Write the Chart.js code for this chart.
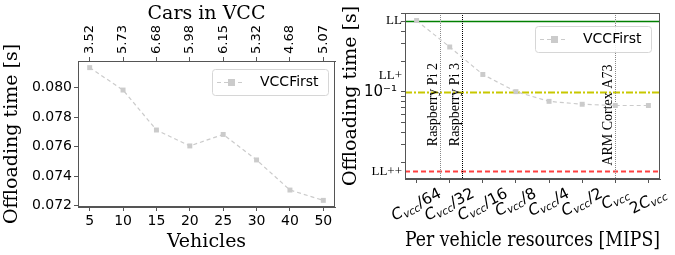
<!DOCTYPE html>
<html>
<head>
<meta charset="utf-8">
<script src="https://cdn.jsdelivr.net/npm/chart.js@4.4.0/dist/chart.umd.min.js"></script>
<style>
  body { margin: 0; background: #fff; width: 675px; height: 255px; overflow: hidden; position: relative; }
  canvas { position: absolute; top: 0; }
  #leftChart { left: 0; }
  #rightChart { left: 340px; }
</style>
</head>
<body>
<canvas id="leftChart" width="340" height="255"></canvas>
<canvas id="rightChart" width="335" height="255"></canvas>
<script>
// Left panel: offloading time vs number of vehicles
const vehicles = ['5', '10', '15', '20', '25', '30', '40', '50'];
const carsInVcc = ['3.52', '5.73', '6.68', '5.98', '6.15', '5.32', '4.68', '5.07'];
const vehicleTimes = [0.08136, 0.07984, 0.07713, 0.07605, 0.07683, 0.07510, 0.07306, 0.07236];
const leftYTicks = [0.072, 0.074, 0.076, 0.078, 0.080];

// Right panel: offloading time vs per vehicle resources (log y)
const resources = ['C_{vcc}/64', 'C_{vcc}/32', 'C_{vcc}/16', 'C_{vcc}/8', 'C_{vcc}/4', 'C_{vcc}/2', 'C_{vcc}', '2C_{vcc}'];
const resourceTimes = [0.51, 0.279, 0.149, 0.1007, 0.0807, 0.0755, 0.0734, 0.0734];
const rightYTicks = [0.1];
const rightYLabels = ['10⁻¹'];
const rightMinorTicks = [0.02, 0.03, 0.04, 0.05, 0.06, 0.07, 0.08, 0.09, 0.2, 0.3, 0.4, 0.5, 0.6];
const devices = ['Raspberry Pi 2', 'Raspberry Pi 3', 'ARM Cortex A73'];
const devicePositions = [0.70, 1.37, 6];
const deviceLabelAt = [0.029, 0.029, 0.0186];
const limitNames = ['LL', 'LL+', 'LL++'];
const limitLabelValues = [0.51, 0.145, 0.0163];
const limitLineValues = [0.51, 0.1, 0.0163];

const seriesName = 'VCCFirst';
const gray = '#cbcbcb';
const axisColor = '#555';
const serif = 'DejaVu Serif';

Chart.defaults.font.family = 'DejaVu Sans';
Chart.defaults.color = '#000';

// matplotlib-like 5% margins
function linBounds(vals) {
  const lo = Math.min(...vals), hi = Math.max(...vals), m = (hi - lo) * 0.05;
  return [lo - m, hi + m];
}
function logBounds(vals) {
  const lo = Math.log10(Math.min(...vals)), hi = Math.log10(Math.max(...vals)), m = (hi - lo) * 0.05;
  return [Math.pow(10, lo - m), Math.pow(10, hi + m)];
}

const idx = vehicles.map((_, i) => i);
const xRange = linBounds(idx);

const framePlugin = {
  id: 'frame',
  afterDatasetsDraw(chart) {
    const a = chart.chartArea, ctx = chart.ctx;
    ctx.save();
    ctx.strokeStyle = axisColor;
    ctx.lineWidth = 1;
    ctx.strokeRect(a.left + 0.5, a.top + 0.5, a.right - a.left - 1, a.bottom - a.top - 1);
    ctx.restore();
  }
};

const boxLegend = {
  id: 'boxLegend',
  afterDraw(chart, args, opts) {
    const a = chart.chartArea, ctx = chart.ctx;
    const w = 116, h = 26;
    const left = a.right - opts.right - w, top = a.top + opts.top;
    ctx.save();
    ctx.fillStyle = 'rgba(255,255,255,0.85)';
    ctx.strokeStyle = '#d6d6d6';
    ctx.lineWidth = 1;
    ctx.beginPath();
    ctx.roundRect(left + 0.5, top + 0.5, w, h, 3);
    ctx.fill();
    ctx.stroke();
    const cy = top + h / 2 + 0.5;
    ctx.strokeStyle = gray;
    ctx.lineWidth = 1.2;
    ctx.setLineDash([4, 3]);
    ctx.beginPath();
    ctx.moveTo(left + 5, cy);
    ctx.lineTo(left + 33, cy);
    ctx.stroke();
    ctx.setLineDash([]);
    ctx.fillStyle = gray;
    ctx.fillRect(left + 16, cy - 3.5, 7, 7);
    ctx.fillStyle = '#000';
    ctx.font = '14px "DejaVu Sans"';
    ctx.textBaseline = 'middle';
    ctx.fillText(chart.data.datasets[0].label, left + 48, cy);
    ctx.restore();
  }
};

// vertical tick labels of the top axis (Cars in VCC)
const topLabels = {
  id: 'topLabels',
  afterDraw(chart) {
    const a = chart.chartArea, ctx = chart.ctx, x = chart.scales.x2;
    ctx.save();
    ctx.fillStyle = '#000';
    ctx.font = '13px "DejaVu Sans"';
    ctx.textAlign = 'left';
    ctx.textBaseline = 'middle';
    carsInVcc.forEach((lab, i) => {
      ctx.save();
      ctx.translate(x.getPixelForValue(i), a.top - 7);
      ctx.rotate(-Math.PI / 2);
      ctx.fillText(lab, 0, 0);
      ctx.restore();
    });
    ctx.restore();
  }
};

const lineDataset = (data) => ({
  label: seriesName,
  data: data,
  borderColor: gray,
  borderWidth: 1.2,
  borderDash: [4, 3],
  pointStyle: 'rect',
  pointRadius: 3.5,
  pointBackgroundColor: gray,
  pointBorderColor: gray,
  pointBorderWidth: 0
});

const gridOpts = { drawOnChartArea: false, tickLength: 4, color: axisColor };

// ---------- left chart ----------
new Chart(document.getElementById('leftChart'), {
  type: 'line',
  data: { datasets: [lineDataset(vehicleTimes.map((v, i) => ({ x: i, y: v })))] },
  options: {
    responsive: false,
    animation: false,
    layout: { padding: { right: 5 } },
    plugins: { legend: { display: false }, tooltip: { enabled: false }, boxLegend: { right: 7, top: 8 } },
    scales: {
      x: {
        type: 'linear', position: 'bottom', min: xRange[0], max: xRange[1],
        afterBuildTicks: s => { s.ticks = idx.map(i => ({ value: i })); },
        afterFit: s => { s.height = 48; },
        ticks: { callback: (v, i) => vehicles[i], font: { size: 14 }, padding: 2, maxRotation: 0, autoSkip: false },
        grid: gridOpts,
        border: { color: axisColor },
        title: { display: true, text: 'Vehicles', font: { family: serif, size: 19 }, padding: 2 }
      },
      x2: {
        type: 'linear', position: 'top', min: xRange[0], max: xRange[1],
        afterBuildTicks: s => { s.ticks = idx.map(i => ({ value: i })); },
        afterFit: s => { s.height = 61; },
        ticks: { callback: () => '', autoSkip: false, maxRotation: 0 },
        grid: gridOpts,
        border: { color: axisColor },
        title: { display: true, text: 'Cars in VCC', font: { family: serif, size: 19 }, padding: { top: 3, bottom: 0 } }
      },
      y: {
        type: 'linear', min: linBounds(vehicleTimes)[0], max: linBounds(vehicleTimes)[1],
        afterBuildTicks: s => { s.ticks = leftYTicks.map(v => ({ value: v })); },
        afterFit: s => { s.width = 78; },
        ticks: { callback: v => v.toFixed(3), font: { size: 14 }, padding: 2 },
        grid: gridOpts,
        border: { color: axisColor },
        title: { display: true, text: 'Offloading time [s]', font: { family: serif, size: 19 }, padding: 1 }
      }
    }
  },
  plugins: [framePlugin, topLabels, boxLegend]
});

// ---------- right chart ----------
const refLines = {
  id: 'refLines',
  beforeDatasetsDraw(chart) {
    const a = chart.chartArea, ctx = chart.ctx;
    const x = chart.scales.x, y = chart.scales.y;
    const styles = [
      { color: '#008000', width: 1.5, dash: [] },
      { color: '#c8c800', width: 2, dash: [7, 2, 2, 2] },
      { color: '#ff4040', width: 2, dash: [5, 3] }
    ];
    ctx.save();
    limitLineValues.forEach((v, i) => {
      const py = Math.round(y.getPixelForValue(v)) + 0.5;
      ctx.strokeStyle = styles[i].color;
      ctx.lineWidth = styles[i].width;
      ctx.setLineDash(styles[i].dash);
      ctx.beginPath();
      ctx.moveTo(a.left, py);
      ctx.lineTo(a.right, py);
      ctx.stroke();
    });
    devicePositions.forEach((p, i) => {
      const px = Math.round(x.getPixelForValue(p)) + 0.5;
      ctx.strokeStyle = i === 1 ? '#000' : '#888';
      ctx.lineWidth = 1;
      ctx.setLineDash([1, 1]);
      ctx.beginPath();
      ctx.moveTo(px, a.top);
      ctx.lineTo(px, a.bottom);
      ctx.stroke();
      ctx.setLineDash([]);
      ctx.save();
      ctx.translate(px - 4, y.getPixelForValue(deviceLabelAt[i]));
      ctx.rotate(-Math.PI / 2);
      ctx.fillStyle = '#000';
      ctx.font = '14px "Liberation Serif"';
      ctx.textAlign = 'left';
      ctx.textBaseline = 'alphabetic';
      ctx.fillText(devices[i], 0, 0);
      ctx.restore();
    });
    ctx.restore();
  },
  afterDraw(chart) {
    const a = chart.chartArea, ctx = chart.ctx;
    const x = chart.scales.x, y = chart.scales.y;
    ctx.save();
    ctx.fillStyle = '#000';
    // limit labels on the y axis
    ctx.font = '13px "Liberation Serif"';
    ctx.textAlign = 'right';
    ctx.textBaseline = 'middle';
    limitNames.forEach((n, i) => ctx.fillText(n, a.left - 3, y.getPixelForValue(limitLabelValues[i])));
    // rotated math-style x tick labels
    const size = 15.5, subSize = 10.5, ang = 27 * Math.PI / 180;
    resources.forEach((lab, i) => {
      const m = lab.match(/^(.*?)_\{(.*?)\}(.*)$/);
      const parts = [];
      for (const ch of m[1]) parts.push({ t: ch, f: (/\d/.test(ch) ? '' : 'italic ') + size + 'px "DejaVu Sans"', dy: 0 });
      parts.push({ t: m[2], f: 'italic ' + subSize + 'px "DejaVu Sans"', dy: 4 });
      if (m[3]) parts.push({ t: m[3], f: size + 'px "DejaVu Sans"', dy: 0 });
      let W = 0;
      parts.forEach(p => { ctx.font = p.f; p.w = ctx.measureText(p.t).width; W += p.w; });
      const bh = W * Math.sin(ang) + size * Math.cos(ang);
      const cx = x.getPixelForValue(i), cy = a.bottom + 7 + bh / 2;
      ctx.save();
      ctx.translate(cx, cy);
      ctx.rotate(-ang);
      ctx.textAlign = 'left';
      ctx.textBaseline = 'middle';
      let px = -W / 2;
      parts.forEach(p => { ctx.font = p.f; ctx.fillText(p.t, px, p.dy); px += p.w; });
      ctx.restore();
    });
    ctx.restore();
  }
};

const yLog = logBounds([limitLineValues[0], limitLineValues[2]]);

new Chart(document.getElementById('rightChart'), {
  type: 'line',
  data: { datasets: [lineDataset(resourceTimes.map((v, i) => ({ x: i, y: v })))] },
  options: {
    responsive: false,
    animation: false,
    layout: { padding: { right: 15, top: 7 } },
    plugins: { legend: { display: false }, tooltip: { enabled: false }, boxLegend: { right: 9, top: 13 } },
    scales: {
      x: {
        type: 'linear', min: xRange[0], max: xRange[1],
        afterBuildTicks: s => { s.ticks = idx.map(i => ({ value: i })); },
        afterFit: s => { s.height = 76; },
        ticks: { callback: () => '', autoSkip: false, maxRotation: 0 },
        grid: gridOpts,
        border: { color: axisColor },
        title: { display: true, text: 'Per vehicle resources [MIPS]', font: { family: serif, size: 21 }, padding: 2 }
      },
      y: {
        type: 'logarithmic', min: yLog[0], max: yLog[1],
        afterBuildTicks: s => {
          s.ticks = rightYTicks.map(v => ({ value: v, major: true })).concat(rightMinorTicks.map(v => ({ value: v })));
        },
        afterFit: s => { s.width = 65; },
        ticks: {
          callback: (v, i) => (i < rightYTicks.length ? rightYLabels[i] : ''),
          font: { size: 15 }, padding: 4, autoSkip: false
        },
        grid: gridOpts,
        border: { color: axisColor },
        title: { display: true, text: 'Offloading time [s]', font: { family: serif, size: 19 }, padding: 0 }
      }
    }
  },
  plugins: [framePlugin, refLines, boxLegend]
});
</script>
</body>
</html>
